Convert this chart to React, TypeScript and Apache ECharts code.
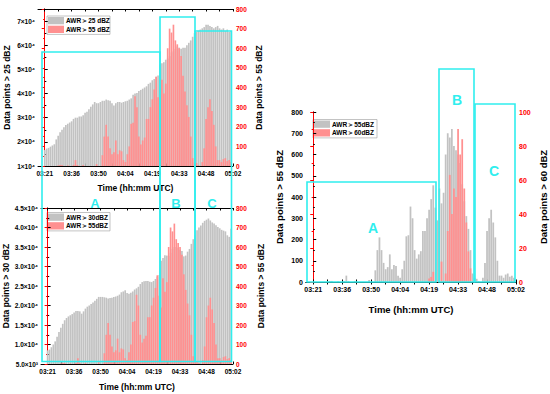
import React, { useEffect, useRef } from "react";
import * as echarts from "echarts";

// ---------- data ----------
const TIME_LABELS = ["03:21", "03:36", "03:50", "04:04", "04:19", "04:33", "04:48", "05:02"];
const LABEL_STEP = 14; // scans between labelled ticks

// AWR > 25 dBZ (data points)
const AWR25 = [
  16600, 17200, 17500, 18000, 18500, 19000, 21000, 22500, 24000, 25000,
  26000, 27000, 27500, 28000, 28500, 29500, 30000, 30000, 30500, 30500,
  31000, 32000, 32500, 33500, 34500, 35500, 36500, 36000, 36000, 36500,
  37000, 37000, 37500, 37200, 37000, 36000, 35000, 36000, 36500, 36500,
  36200, 36500, 36800, 37000, 37500, 38000, 39500, 40000, 40200, 41000,
  41500, 42000, 42500, 43000, 44000, 44500, 45500, 46000, 47000, 47500,
  52000, 52500, 53000, 54000, 54500, 55500, 57000, 57500, 58500, 59500,
  59000, 58500, 59000, 59000, 60000, 61000, 62000, 63500, 65000, 65500,
  66000, 66500, 67000, 67500, 68500, 68500, 68000, 67500, 67000, 67500,
  68000, 67000, 66500, 67000, 66000, 66500, 65500, 66000,
];

// AWR > 30 dBZ (data points)
const AWR30 = [
  8500, 8700, 9300, 10000, 10800, 12000, 13200, 14300, 15300, 16200,
  16800, 17200, 17500, 17800, 18200, 18600, 18600, 18500, 17900, 18500,
  19200, 19700, 20000, 20400, 20800, 21200, 21700, 22200, 22200, 22200,
  22100, 22000, 21800, 21900, 22000, 22200, 22300, 22500, 22800, 23400,
  23600, 23900, 23200, 23000, 23300, 23600, 24100, 24400, 24800, 25500,
  26000, 26200, 26300, 26300, 26100, 26000, 26300, 26800, 27400, 27800,
  31500, 32200, 32900, 32800, 32700, 33500, 34500, 35000, 35000, 34800,
  34300, 34000, 32600, 32800, 33800, 34500, 35800, 37000, 38000, 39300,
  40000, 40500, 41200, 41700, 42000, 42300, 41800, 41300, 41000, 40600,
  40100, 39800, 39400, 39200, 39000, 38000, 37600, 39700,
];

// AWR > 55 dBZ (data points)
const AWR55 = [
  0, 0, 0, 0, 0, 0, 0, 3, 5, 5,
  0, 0, 3, 0, 0, 5, 30, 5, 0, 0,
  5, 0, 0, 0, 0, 0, 0, 10, 0, 0,
  55, 150, 210, 150, 90, 60, 70, 130, 60, 80,
  75, 30, 20, 60, 100, 215, 220, 355, 300, 150,
  110, 130, 145, 240, 240, 300, 340, 390, 455, 350,
  290, 440, 370, 420, 600, 700, 680, 720, 640, 620,
  600, 560, 460, 380, 310, 250, 150, 40, 20, 15,
  5, 0, 20, 90, 240, 300, 340, 280, 210, 100,
  30, 30, 20, 35, 40, 25, 30, 20,
];

// AWR > 60 dBZ (data points)
const AWR60 = [
  0, 0, 0, 0, 0, 0, 0, 0, 0, 0,
  0, 0, 0, 0, 0, 0, 0, 0, 0, 0,
  0, 0, 0, 0, 0, 0, 0, 0, 0, 0,
  0, 0, 0, 0, 0, 0, 0, 0, 0, 0,
  0, 0, 0, 0, 0, 0, 0, 0, 0, 0,
  0, 0, 0, 0, 0, 0, 2, 3, 6, 0,
  0, 0, 12, 0, 5, 30, 63, 40, 55, 50,
  90, 75, 84, 55, 35, 18, 8, 0, 0, 0,
  0, 0, 0, 0, 0, 0, 0, 0, 0, 0,
  0, 0, 0, 0, 0, 0, 0, 0,
];

// ---------- style ----------
const FONT = "'Liberation Sans', Arial, Helvetica, sans-serif";
const GRAY = "#c2c2c2";
const RED = "#ff9090";
const CYAN = "#30eeee";
const AXIS_RED = "#ff0000";
const X_MIN = -3.5;
const X_MAX = 98;
const MAJOR = TIME_LABELS.map((_, k) => k * LABEL_STEP);
const MINOR = MAJOR.concat(MAJOR.slice(0, -1).map((v) => v + LABEL_STEP / 2)).sort((a, b) => a - b);

function xAxes(gridIndex: number, labelSize: number, nameSize: number, nameGap: number) {
  const line = { show: true, lineStyle: { color: "#000", width: 1 } };
  return [
    {
      type: "value", gridIndex, min: X_MIN, max: X_MAX, position: "bottom",
      axisLine: line,
      axisTick: { show: true, inside: true, length: 2.5, customValues: MINOR, lineStyle: { color: "#000" } },
      axisLabel: {
        show: true, customValues: MAJOR,
        formatter: (v: number) => TIME_LABELS[Math.round(v / LABEL_STEP)] ?? "",
        fontSize: labelSize, fontWeight: "bold", fontFamily: FONT, color: "#000", margin: 4,
      },
      splitLine: { show: false },
      name: "Time (hh:mm UTC)", nameLocation: "middle", nameGap,
      nameTextStyle: { fontSize: nameSize, fontWeight: "bold", fontFamily: FONT, color: "#000" },
    },
    {
      type: "value", gridIndex, min: X_MIN, max: X_MAX, position: "top",
      axisLine: line,
      axisTick: { show: true, inside: true, length: 2.5, customValues: MINOR, lineStyle: { color: "#000" } },
      axisLabel: { show: false },
      splitLine: { show: false },
    },
  ];
}

function yAxis(o: {
  gridIndex: number; position: "left" | "right"; min: number; max: number; interval: number;
  color: string; labelColor: string; formatter: (v: number) => string; labelSize: number;
  name: string; nameSize: number; nameGap: number;
}) {
  return {
    type: "value", gridIndex: o.gridIndex, position: o.position, min: o.min, max: o.max, interval: o.interval,
    axisLine: { show: true, lineStyle: { color: o.color, width: 1 } },
    axisTick: { show: true, inside: true, length: 3, lineStyle: { color: o.color } },
    minorTick: { show: true, splitNumber: 2, length: 1.6, lineStyle: { color: o.color } },
    axisLabel: {
      formatter: o.formatter, fontSize: o.labelSize, fontWeight: "bold", fontFamily: FONT,
      color: o.labelColor, margin: 3, showMaxLabel: true,
    },
    splitLine: { show: false },
    name: o.name, nameLocation: "middle", nameRotate: 90, nameGap: o.nameGap,
    nameTextStyle: { fontSize: o.nameSize, fontWeight: "bold", fontFamily: FONT, color: "#000" },
  };
}

function bars(data: number[], xAxisIndex: number, yAxisIndex: number, color: string, width: number) {
  return {
    type: "bar", xAxisIndex, yAxisIndex, barWidth: width, barGap: "-100%",
    data: data.map((v, i) => [i, v]), itemStyle: { color }, silent: true, clip: true,
  };
}

function legend(x: number, y: number, w: number, items: [string, string][], fontSize: number) {
  const rowH = 8.7;
  const swW = 16;
  const children: any[] = [
    { type: "rect", shape: { x, y, width: w, height: rowH * items.length + 1 }, style: { fill: "#fff", stroke: "#9a9a9a", lineWidth: 0.6 } },
  ];
  items.forEach(([label, color], k) => {
    const top = y + 1 + k * rowH;
    children.push({ type: "rect", shape: { x: x + 1, y: top, width: swW, height: rowH - 1.4 }, style: { fill: color } });
    children.push({
      type: "text", x: x + swW + 3, y: top + (rowH - 1.4) / 2,
      style: { text: label, fill: "#000", fontSize, fontWeight: "bold", fontFamily: FONT, verticalAlign: "middle", align: "left" },
    });
  });
  return { type: "group", z: 50, children };
}

function box(x1: number, y1: number, x2: number, y2: number) {
  return { type: "rect", z: 60, shape: { x: x1, y: y1, width: x2 - x1, height: y2 - y1 }, style: { fill: "none", stroke: CYAN, lineWidth: 1.6 } };
}

function tag(text: string, x: number, y: number, size: number) {
  return {
    type: "text", z: 60, x, y,
    style: { text, fill: CYAN, fontSize: size, fontWeight: "bold", fontFamily: FONT, align: "center", verticalAlign: "middle" },
  };
}

const sup4 = (v: number) => `${v}×10⁴`;

export default function App() {
  const ref = useRef<HTMLDivElement>(null);
  useEffect(() => {
    if (!ref.current) return;
    const chart = echarts.init(ref.current, undefined, { renderer: "svg" });
    const option: any = {
      animation: false,
      backgroundColor: "#fff",
      grid: [
        { left: 38, top: 9, width: 195, height: 157 },
        { left: 38, top: 208, width: 195, height: 156 },
        { left: 306, top: 112, width: 210, height: 170 },
      ],
      xAxis: [
        ...xAxes(0, 6.5, 8.5, 17),
        ...xAxes(1, 6.5, 8.5, 18),
        ...xAxes(2, 7, 9.5, 22),
      ],
      yAxis: [
        yAxis({
          gridIndex: 0, position: "left", min: 10000, max: 75000, interval: 10000, color: "#000", labelColor: "#000",
          formatter: (v) => (v % 10000 === 0 ? sup4(v / 10000) : ""), labelSize: 6.5,
          name: "Data points > 25 dBZ", nameSize: 8.5, nameGap: 27,
        }),
        yAxis({
          gridIndex: 0, position: "right", min: 0, max: 800, interval: 100, color: AXIS_RED, labelColor: AXIS_RED,
          formatter: (v) => String(v), labelSize: 6.5,
          name: "Data points > 55 dBZ", nameSize: 8.5, nameGap: 21,
        }),
        yAxis({
          gridIndex: 1, position: "left", min: 5000, max: 45000, interval: 5000, color: "#000", labelColor: "#000",
          formatter: (v) => (v < 10000 ? `${(v / 1000).toFixed(1)}×10³` : `${(v / 10000).toFixed(1)}×10⁴`), labelSize: 6.5,
          name: "Data points > 30 dBZ", nameSize: 8.5, nameGap: 31,
        }),
        yAxis({
          gridIndex: 1, position: "right", min: 0, max: 800, interval: 100, color: AXIS_RED, labelColor: AXIS_RED,
          formatter: (v) => String(v), labelSize: 6.5,
          name: "Data points > 55 dBZ", nameSize: 8.5, nameGap: 23,
        }),
        yAxis({
          gridIndex: 2, position: "left", min: 0, max: 800, interval: 100, color: "#000", labelColor: "#000",
          formatter: (v) => String(v), labelSize: 7,
          name: "Data points > 55 dBZ", nameSize: 9.5, nameGap: 22,
        }),
        yAxis({
          gridIndex: 2, position: "right", min: 0, max: 100, interval: 20, color: AXIS_RED, labelColor: AXIS_RED,
          formatter: (v) => String(v), labelSize: 7,
          name: "Data points > 60 dBZ", nameSize: 9.5, nameGap: 22,
        }),
      ],
      series: [
        bars(AWR25, 0, 0, GRAY, 1.65),
        bars(AWR55, 0, 1, RED, 1.65),
        bars(AWR30, 2, 2, GRAY, 1.65),
        bars(AWR55, 2, 3, RED, 1.65),
        bars(AWR55, 4, 4, GRAY, 1.75),
        bars(AWR60, 4, 5, RED, 1.75),
      ],
      graphic: [
        legend(47, 16, 63, [["AWR＞25 dBZ", GRAY], ["AWR＞55 dBZ", RED]], 6.5),
        legend(47, 212.5, 63, [["AWR＞30dBZ", GRAY], ["AWR＞55dBZ", RED]], 6.5),
        legend(313, 119.5, 64, [["AWR＞55dBZ", GRAY], ["AWR＞60dBZ", RED]], 6.5),
        box(42, 52, 160, 361.5),
        box(160, 17, 195, 361.5),
        box(195, 31, 231.5, 361.5),
        tag("A", 95, 203, 13),
        tag("B", 176, 203, 13),
        tag("C", 212, 203, 13),
        box(307, 182, 436, 282),
        box(439, 69, 474, 282),
        box(475, 104, 515, 282),
        tag("A", 373, 228, 14),
        tag("B", 457, 100, 14),
        tag("C", 494, 171, 14),
      ],
    };
    chart.setOption(option);
    return () => chart.dispose();
  }, []);
  return (
    <div
      ref={ref}
      style={{ position: "absolute", left: 0, top: 0, width: 550, height: 394, background: "#fff" }}
    />
  );
}
